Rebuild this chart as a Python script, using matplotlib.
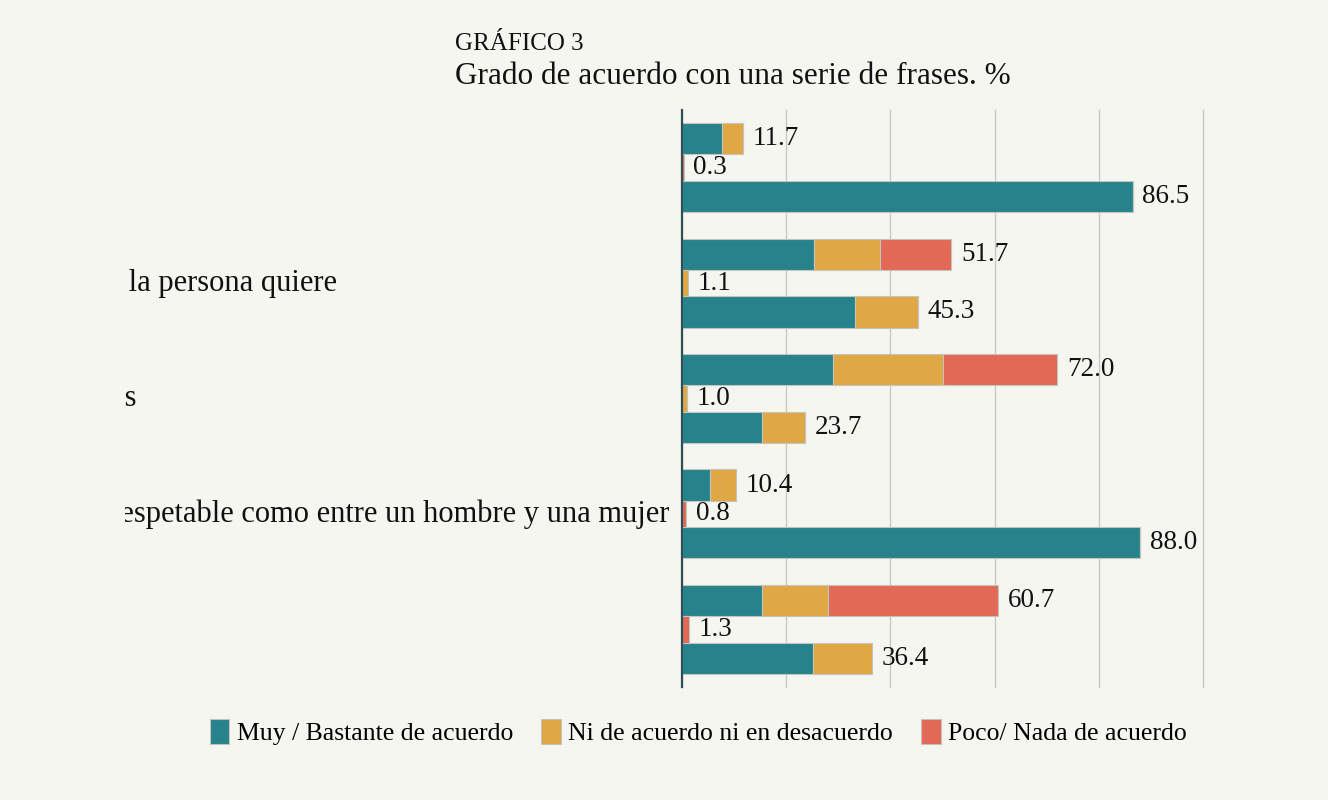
import matplotlib
matplotlib.use("Agg")
import matplotlib.pyplot as plt
from matplotlib.patches import Patch
from matplotlib.transforms import Bbox, TransformedBbox

# phrases (the image only shows the clipped right ends of some of them)
categories = [
    "Las personas homosexuales deben tener los mismos derechos",
    "Todo el mundo debe poder casarse con quien la persona quiere",
    "Las parejas homosexuales no deberían poder adoptar hijos",
    "Un matrimonio entre dos hombres o dos mujeres es tan respetable como entre un hombre y una mujer",
    "Los hijos de parejas del mismo sexo crecen igual de bien",
]
series_names = ["Muy / Bastante de acuerdo", "Ni de acuerdo ni en desacuerdo", "Poco/ Nada de acuerdo"]

# three bars per phrase, each stacked from the three answers
bar_teal = [7.6, 0.0, 86.5, 25.4, 0.0, 33.3, 29.0, 0.0, 15.3, 5.3, 0.0, 88.0, 15.3, 0.0, 25.2]
bar_orange = [4.1, 0.0, 0.0, 12.6, 1.1, 12.0, 21.0, 1.0, 8.4, 5.1, 0.0, 0.0, 12.7, 0.0, 11.2]
bar_red = [0.0, 0.3, 0.0, 13.7, 0.0, 0.0, 22.0, 0.0, 0.0, 0.0, 0.8, 0.0, 32.7, 1.3, 0.0]
bar_labels = ["11.7", "0.3", "86.5", "51.7", "1.1", "45.3", "72.0", "1.0", "23.7",
              "10.4", "0.8", "88.0", "60.7", "1.3", "36.4"]
x_ticks = [0, 20, 40, 60, 80, 100]

colors = ["#26838b", "#dfa844", "#e26955"]
bg = "#f6f6f1"
edge = "#c4c4c0"

plt.rcParams['font.family'] = ['Liberation Serif', 'DejaVu Serif']

fig = plt.figure(figsize=(13.28, 8), dpi=100, facecolor=bg)
ax = fig.add_axes([682 / 1328, 1 - 687 / 800, 521 / 1328, 577 / 800])
ax.set_facecolor(bg)

offsets = [-0.25, 0.0, 0.25]
heights = [0.27, 0.23, 0.27]
ys, hs = [], []
for g in range(len(categories)):
    for k in range(3):
        ys.append(g + offsets[k])
        hs.append(heights[k])

left = [0.0] * len(ys)
for vals, col in zip([bar_teal, bar_orange, bar_red], colors):
    ax.barh(ys, vals, height=hs, left=left, color=col, edgecolor=edge, linewidth=0.8, zorder=3)
    left = [l + v for l, v in zip(left, vals)]

for y, tot, lab in zip(ys, left, bar_labels):
    ax.annotate(lab, (tot, y), xytext=(7, 0), textcoords="offset points",
                ha="left", va="center", fontsize=19.5, color="#111111")

ax.set_xlim(0, 100)
ax.set_ylim(len(categories) - 0.5, -0.5)
ax.set_xticks(x_ticks)
ax.set_yticks([])
ax.tick_params(axis="x", length=0, labelbottom=False)
ax.grid(axis="x", color="#c9c9c6", linewidth=1.0, zorder=0)
for line in ax.get_xgridlines():
    line.set_clip_on(False)
for s in ["top", "right", "bottom"]:
    ax.spines[s].set_visible(False)
ax.spines["left"].set_color("#2e4f56")
ax.spines["left"].set_linewidth(1.6)
ax.spines["left"].set_zorder(4)

# category labels, cut off on the left like in the source image
label_right_px = [110, 337, 136, 669, 112]
clip = TransformedBbox(Bbox.from_extents(125 / 1328, 0, 1, 1), fig.transFigure)
for g, (name, xr) in enumerate(zip(categories, label_right_px)):
    ypix = 110 + (g + 0.5) * 577 / len(categories)
    t = fig.text(xr / 1328, 1 - ypix / 800, name, fontsize=22, ha="right", va="center", color="#111111")
    t.set_clip_box(clip)
    t.set_clip_on(True)

fig.text(455 / 1328, 1 - 50 / 800, "GRÁFICO 3", fontsize=18, ha="left", va="baseline", color="#111111")
fig.text(455 / 1328, 1 - 84 / 800, "Grado de acuerdo con una serie de frases. %", fontsize=22.5,
         ha="left", va="baseline", color="#111111")

handles = [Patch(facecolor=c, edgecolor=edge, linewidth=0.8) for c in colors]
fig.legend(handles, series_names, loc="center", bbox_to_anchor=(0.526, 1 - 732 / 800), ncol=3,
           frameon=False, fontsize=18.5, handlelength=0.75, handleheight=1.1, handletextpad=0.3,
           columnspacing=1.1)

fig.savefig("out.png", dpi=100, facecolor=bg)
